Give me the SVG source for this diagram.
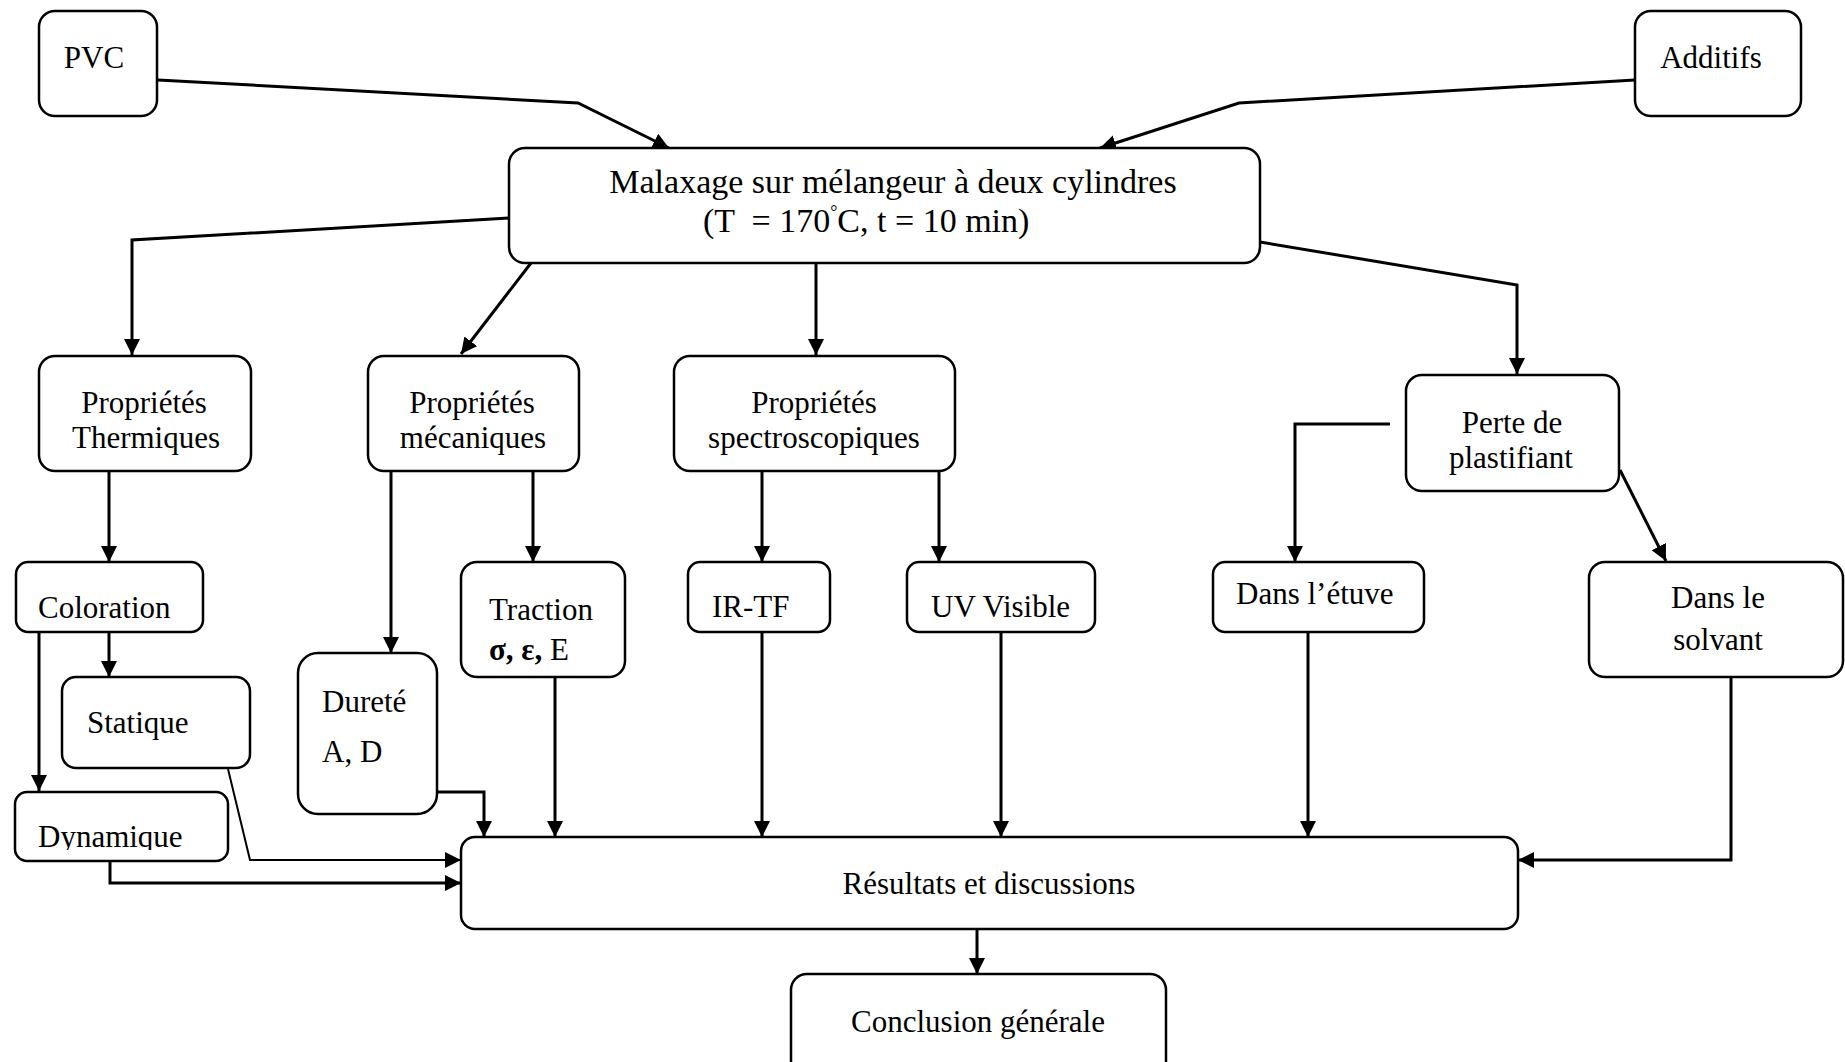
<svg xmlns="http://www.w3.org/2000/svg" width="1845" height="1062" viewBox="0 0 1845 1062">
  <style>
    .box { fill: #fff; stroke: #000; stroke-width: 2.5; }
    .t { font-family: "Liberation Serif", "Times New Roman", serif; font-size: 31px; fill: #000; }
    .m { text-anchor: middle; }
    .big { font-size: 34px; }
    .ln { fill: none; stroke: #000; stroke-width: 3; stroke-linejoin: miter; marker-end: url(#ah); }
    .thin { stroke-width: 2; }
  </style>
  <defs>
    <marker id="ah" markerUnits="userSpaceOnUse" markerWidth="18" markerHeight="18" refX="16" refY="8" orient="auto">
      <path d="M0,0 L16,8 L0,16 Z" fill="#000"/>
    </marker>
    <clipPath id="dynClip">
      <rect x="15" y="792" width="213" height="58"/>
    </clipPath>
  </defs>
  <rect width="1845" height="1062" fill="#fff"/>

  <!-- connectors -->
  <g id="connectors">
    <path class="ln" d="M158,80 L578,103 L669,148"/>
    <path class="ln" d="M1635,80 L1239,103 L1100,148"/>
    <path class="ln" d="M509,218 L132,240 L132,355"/>
    <path class="ln" d="M531,263 L461,354"/>
    <path class="ln" d="M816,263 L816,355"/>
    <path class="ln" d="M1260,242 L1517,285 L1517,374"/>
    <path class="ln" d="M109,471 L109,562"/>
    <path class="ln" d="M109,632 L109,677"/>
    <path class="ln" d="M39,632 L39,791"/>
    <path class="ln" d="M391,471 L391,653"/>
    <path class="ln" d="M533,471 L533,562"/>
    <path class="ln" d="M762,471 L762,562"/>
    <path class="ln" d="M939,471 L939,562"/>
    <path class="ln" d="M1390,424 L1295,424 L1295,562"/>
    <path class="ln" d="M1620,470 L1666,561"/>
    <path class="ln thin" d="M228,769 L250,860 L461,860"/>
    <path class="ln" d="M110,861 L110,883 L461,883"/>
    <path class="ln" d="M437,792 L484,792 L484,837"/>
    <path class="ln" d="M555,677 L555,837"/>
    <path class="ln" d="M762,632 L762,837"/>
    <path class="ln" d="M1001,632 L1001,837"/>
    <path class="ln" d="M1308,632 L1308,837"/>
    <path class="ln" d="M1731,677 L1731,860 L1518,860"/>
    <path class="ln" d="M977,929 L977,974"/>
  </g>

  <!-- nodes -->
  <g id="pvc">
    <rect class="box" x="39" y="11" width="118" height="105" rx="16"/>
    <text class="t m" x="94" y="68">PVC</text>
  </g>
  <g id="additifs">
    <rect class="box" x="1635" y="11" width="166" height="105" rx="16"/>
    <text class="t m" x="1711" y="68">Additifs</text>
  </g>
  <g id="malaxage">
    <rect class="box" x="509" y="148" width="751" height="115" rx="16"/>
    <text class="t big m" x="893" y="193">Malaxage sur mélangeur à deux cylindres</text>
    <text class="t big" x="703" y="232" xml:space="preserve">(T  = 170<tspan font-size="18" dy="-14">°</tspan><tspan dy="14">C, t = 10 min)</tspan></text>
  </g>
  <g id="prop-thermiques">
    <rect class="box" x="39" y="356" width="212" height="115" rx="16"/>
    <text class="t m" x="144" y="413">Propriétés</text>
    <text class="t m" x="146" y="448">Thermiques</text>
  </g>
  <g id="prop-mecaniques">
    <rect class="box" x="368" y="356" width="211" height="115" rx="16"/>
    <text class="t m" x="472" y="413">Propriétés</text>
    <text class="t m" x="473" y="448">mécaniques</text>
  </g>
  <g id="prop-spectro">
    <rect class="box" x="674" y="356" width="281" height="115" rx="16"/>
    <text class="t m" x="814" y="413">Propriétés</text>
    <text class="t m" x="814" y="448">spectroscopiques</text>
  </g>
  <g id="perte">
    <rect class="box" x="1406" y="375" width="213" height="116" rx="16"/>
    <text class="t m" x="1512" y="433">Perte de</text>
    <text class="t m" x="1511" y="468">plastifiant</text>
  </g>
  <g id="coloration">
    <rect class="box" x="16" y="562" width="187" height="70" rx="12"/>
    <text class="t" x="38" y="618">Coloration</text>
  </g>
  <g id="traction">
    <rect class="box" x="461" y="562" width="164" height="115" rx="16"/>
    <text class="t" x="489" y="620">Traction</text>
    <text class="t" x="489" y="660"><tspan font-weight="bold">σ, ε,</tspan> E</text>
  </g>
  <g id="ir-tf">
    <rect class="box" x="688" y="562" width="142" height="70" rx="12"/>
    <text class="t" x="712" y="617">IR-TF</text>
  </g>
  <g id="uv-visible">
    <rect class="box" x="907" y="562" width="188" height="70" rx="12"/>
    <text class="t" x="931" y="617">UV Visible</text>
  </g>
  <g id="etuve">
    <rect class="box" x="1213" y="562" width="211" height="70" rx="12"/>
    <text class="t" x="1236" y="604">Dans l’étuve</text>
  </g>
  <g id="solvant">
    <rect class="box" x="1589" y="562" width="254" height="115" rx="16"/>
    <text class="t m" x="1718" y="608" font-size="36">Dans le</text>
    <text class="t m" x="1718" y="650" font-size="36">solvant</text>
  </g>
  <g id="statique">
    <rect class="box" x="62" y="677" width="188" height="91" rx="14"/>
    <text class="t" x="87" y="733">Statique</text>
  </g>
  <g id="durete">
    <rect class="box" x="298" y="653" width="139" height="161" rx="20"/>
    <text class="t" x="322" y="712">Dureté</text>
    <text class="t" x="322" y="762">A, D</text>
  </g>
  <g id="dynamique">
    <rect class="box" x="15" y="792" width="213" height="69" rx="12"/>
    <text class="t" x="38" y="847" clip-path="url(#dynClip)">Dynamique</text>
  </g>
  <g id="resultats">
    <rect class="box" x="461" y="837" width="1057" height="92" rx="14"/>
    <text class="t m" x="989" y="894">Résultats et discussions</text>
  </g>
  <g id="conclusion">
    <rect class="box" x="791" y="974" width="375" height="110" rx="16"/>
    <text class="t m" x="978" y="1032">Conclusion générale</text>
  </g>
</svg>
